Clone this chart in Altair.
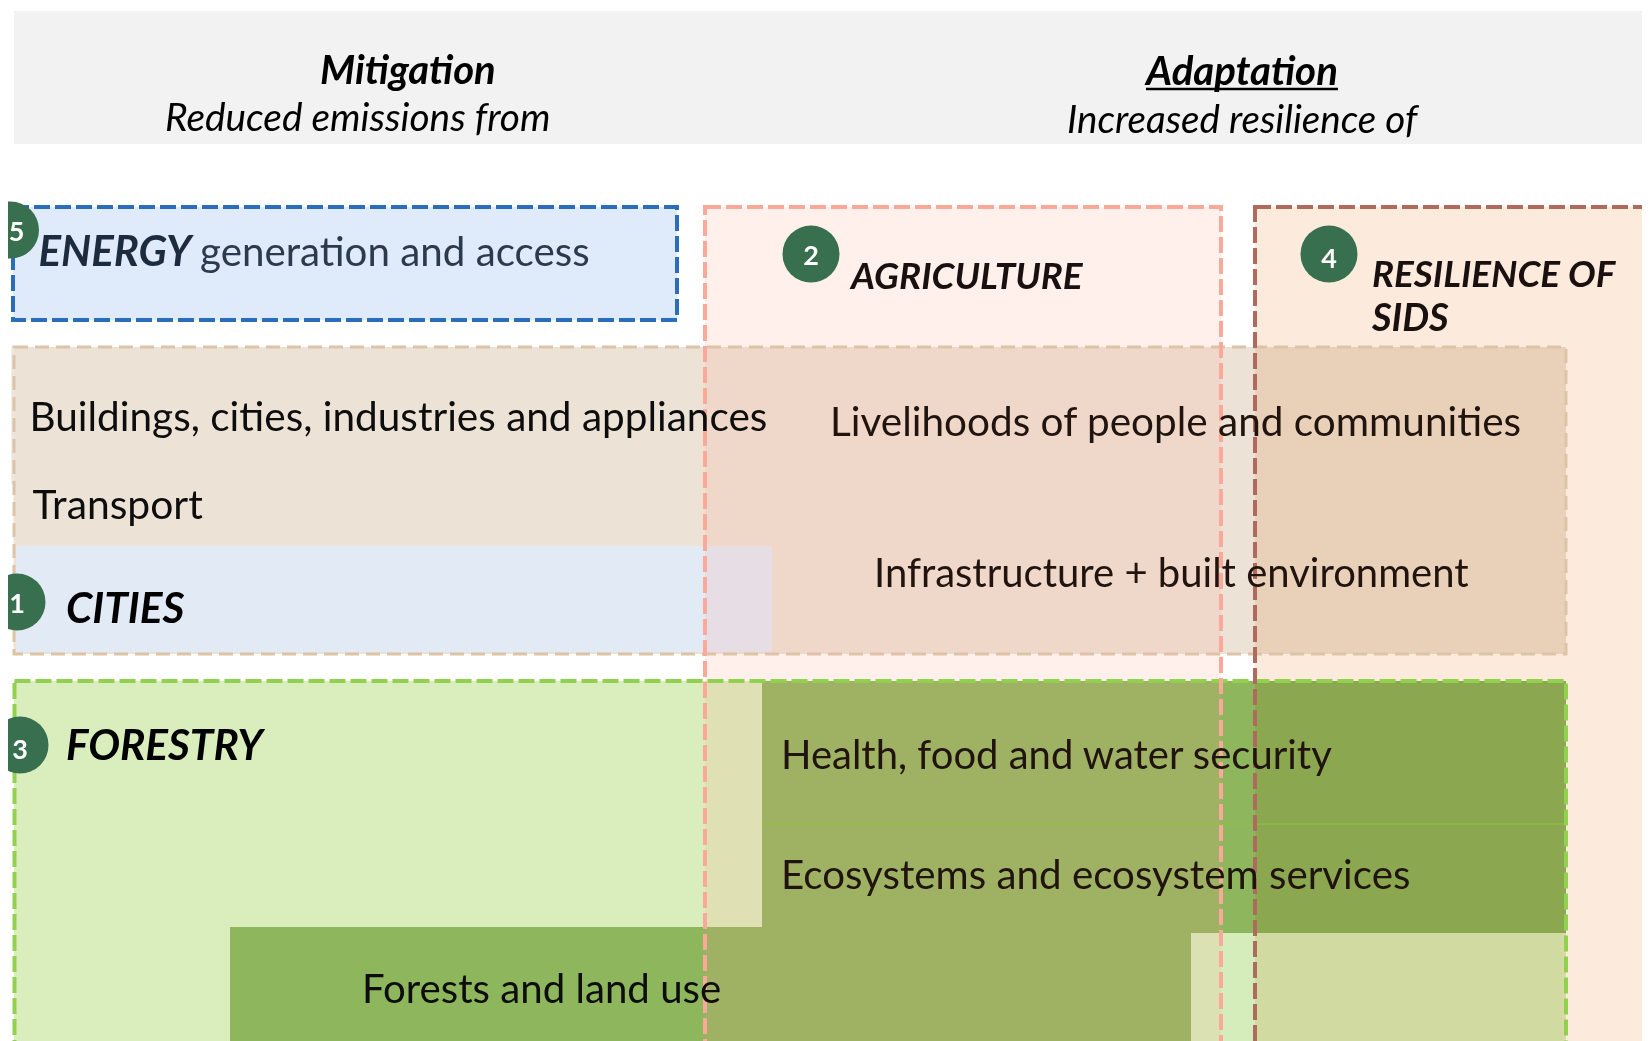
import altair as alt
import pandas as pd

# All geometry values are in reference picture pixels, mapped through x/y scales.
X0, X1, Y0, Y1 = 8, 1642, 8, 1041
xs = alt.Scale(domain=[X0, X1], range=[0, X1 - X0])
ys = alt.Scale(domain=[Y0, Y1], range=[0, Y1 - Y0])

panel_names = ["header", "energy", "beige", "beige_notch", "cities", "forestry", "health", "forests", "pale"]
panel_x = [14, 13, 13.5, 11.5, 16, 14, 762, 230, 1191]
panel_x2 = [1680, 677, 1566, 13.5, 772, 1566, 1566, 1191, 1562]
panel_y = [11, 207, 347, 347, 546, 681, 681, 927, 933]
panel_y2 = [144, 320, 654, 484, 652, 1060, 933, 1060, 1060]
panel_fill = ["#f2f2f2", "#dfeafa", "#ece2d6", "#ece2d6", "#e2eaf6", "#d9edbd", "#8db65d", "#8db65d", "#d4edbb"]

# overlay bands
agri_x, agri_x2, agri_y, agri_y2 = [705], [1221], [207], [1060]
agri_fill, agri_alpha = "#ff9f8a", 0.16
res_x, res_x2, res_y, res_y2 = [1255], [1680], [207], [1060]
res_fill = "#fcebdc"

# outlines: x, x2, y, y2, colour, width, dash
line_x = [13, 14, 14.5, 705, 1255]
line_x2 = [677, 1566, 1566, 1221, 1680]
line_y = [207, 347, 681, 207, 207]
line_y2 = [320, 654, 1060, 1060, 1060]
line_color = ["#2a6ebb", "#dcc4a8", "#92d050", "#f9a899", "#ae6a5c"]
line_width = [4, 3, 4, 4, 4]
line_dash = [[16, 5], [14, 7], [16, 5], [16, 5], [16, 5]]

div_x, div_x2, div_y = [762], [1566], [824]
ul_x, ul_x2, ul_y = [1146], [1338], [89]

badge_x = [10.5, 811, 1329, 17, 20]
badge_y = [230, 254, 254, 602, 745]
badge_lab = ["5", "2", "4", "1", "3"]
badge_tx = [16.5, 811, 1329, 17, 20]
badge_ty = [241, 265, 268, 613, 759]

reg_txt = ["Buildings, cities, industries and appliances", "Transport",
           "Livelihoods of people and communities", "Infrastructure + built environment",
           "Health, food and water security", "Ecosystems and ecosystem services",
           "Forests and land use", "generation and access"]
reg_x = [29.5, 32.5, 830, 874, 781, 781, 362, 200]
reg_y = [431, 519, 436, 587, 769, 889, 1003, 266]
reg_size = [40.5, 40.8, 40.5, 40, 40, 40.3, 40.2, 40.3]
reg_col = ["#0d0d0d", "#0d0d0d", "#21140f", "#21140f", "#21140f", "#21140f", "#0d0d0d", "#2b3a4c"]

ital_txt = ["Reduced emissions from", "Increased resilience of"]
ital_x = [165, 1067]
ital_y = [131, 133]
ital_size = [38.8, 38.6]

bi_txt = ["Mitigation", "Adaptation", "ENERGY", "AGRICULTURE", "RESILIENCE OF", "SIDS", "CITIES", "FORESTRY"]
bi_x = [320, 1146, 38.5, 851, 1372, 1372, 66, 66]
bi_y = [84, 85, 266, 289, 287, 331, 623, 760]
bi_size = [40, 40.2, 42, 36.9, 36.8, 38, 42.4, 42.3]
bi_col = ["#000000", "#000000", "#1d2b3e", "#1a1010", "#1a1010", "#1a1010", "#000000", "#000000"]

FONT = "Lato"


def X(f="x"):
    return alt.X(f, type="quantitative", scale=xs, axis=None)


def Y(f="y"):
    return alt.Y(f, type="quantitative", scale=ys, axis=None)


layers = []

panels = pd.DataFrame(dict(name=panel_names, x=panel_x, x2=panel_x2, y=panel_y, y2=panel_y2, fill=panel_fill))
layers.append(alt.Chart(panels).mark_rect().encode(
    x=X(), x2="x2", y=Y(), y2="y2", color=alt.Color("fill:N", scale=None)))

agri = pd.DataFrame(dict(x=agri_x, x2=agri_x2, y=agri_y, y2=agri_y2))
layers.append(alt.Chart(agri).mark_rect(color=agri_fill, opacity=agri_alpha).encode(
    x=X(), x2="x2", y=Y(), y2="y2"))

res = pd.DataFrame(dict(x=res_x, x2=res_x2, y=res_y, y2=res_y2))
layers.append(alt.Chart(res).mark_rect(color=res_fill, blend="multiply").encode(
    x=X(), x2="x2", y=Y(), y2="y2"))

divider = pd.DataFrame(dict(x=div_x, x2=div_x2, y=div_y))
layers.append(alt.Chart(divider).mark_rule(color="#8cc63f", strokeWidth=1).encode(x=X(), x2="x2", y=Y()))

for i in range(len(line_x)):
    d = pd.DataFrame(dict(x=[line_x[i]], x2=[line_x2[i]], y=[line_y[i]], y2=[line_y2[i]]))
    layers.append(alt.Chart(d).mark_rect(
        fillOpacity=0, stroke=line_color[i], strokeWidth=line_width[i], strokeDash=line_dash[i]
    ).encode(x=X(), x2="x2", y=Y(), y2="y2"))

badges = pd.DataFrame(dict(x=badge_x, y=badge_y))
layers.append(alt.Chart(badges).mark_point(filled=True, size=3249, shape="circle", color="#376f4f", opacity=1).encode(
    x=X(), y=Y()))
badge_t = pd.DataFrame(dict(x=badge_tx, y=badge_ty, t=badge_lab))
layers.append(alt.Chart(badge_t).mark_text(font=FONT, fontWeight="bold", fontSize=27, color="white",
                                           align="center", baseline="alphabetic").encode(x=X(), y=Y(), text="t:N"))

reg = pd.DataFrame(dict(x=reg_x, y=reg_y, t=reg_txt, s=reg_size, c=reg_col))
layers.append(alt.Chart(reg).mark_text(font=FONT, align="left", baseline="alphabetic").encode(
    x=X(), y=Y(), text="t:N", size=alt.Size("s:Q", scale=None), color=alt.Color("c:N", scale=None)))

it = pd.DataFrame(dict(x=ital_x, y=ital_y, t=ital_txt, s=ital_size))
layers.append(alt.Chart(it).mark_text(font=FONT, fontStyle="italic", align="left", baseline="alphabetic",
                                      color="#000000").encode(
    x=X(), y=Y(), text="t:N", size=alt.Size("s:Q", scale=None)))

bi = pd.DataFrame(dict(x=bi_x, y=bi_y, t=bi_txt, s=bi_size, c=bi_col))
layers.append(alt.Chart(bi).mark_text(font=FONT, fontStyle="italic", fontWeight="bold", align="left",
                                      baseline="alphabetic").encode(
    x=X(), y=Y(), text="t:N", size=alt.Size("s:Q", scale=None), color=alt.Color("c:N", scale=None)))

ul = pd.DataFrame(dict(x=ul_x, x2=ul_x2, y=ul_y))
layers.append(alt.Chart(ul).mark_rule(color="#000000", strokeWidth=2.5).encode(x=X(), x2="x2", y=Y()))

chart = alt.layer(*layers).properties(
    width=X1 - X0, height=Y1 - Y0, padding=0, background="white",
    autosize=alt.AutoSizeParams(type="none"),
).configure_view(stroke=None).resolve_scale(color="independent", size="independent")

chart.save("out.html", embed_options={"renderer": "svg", "actions": False})
